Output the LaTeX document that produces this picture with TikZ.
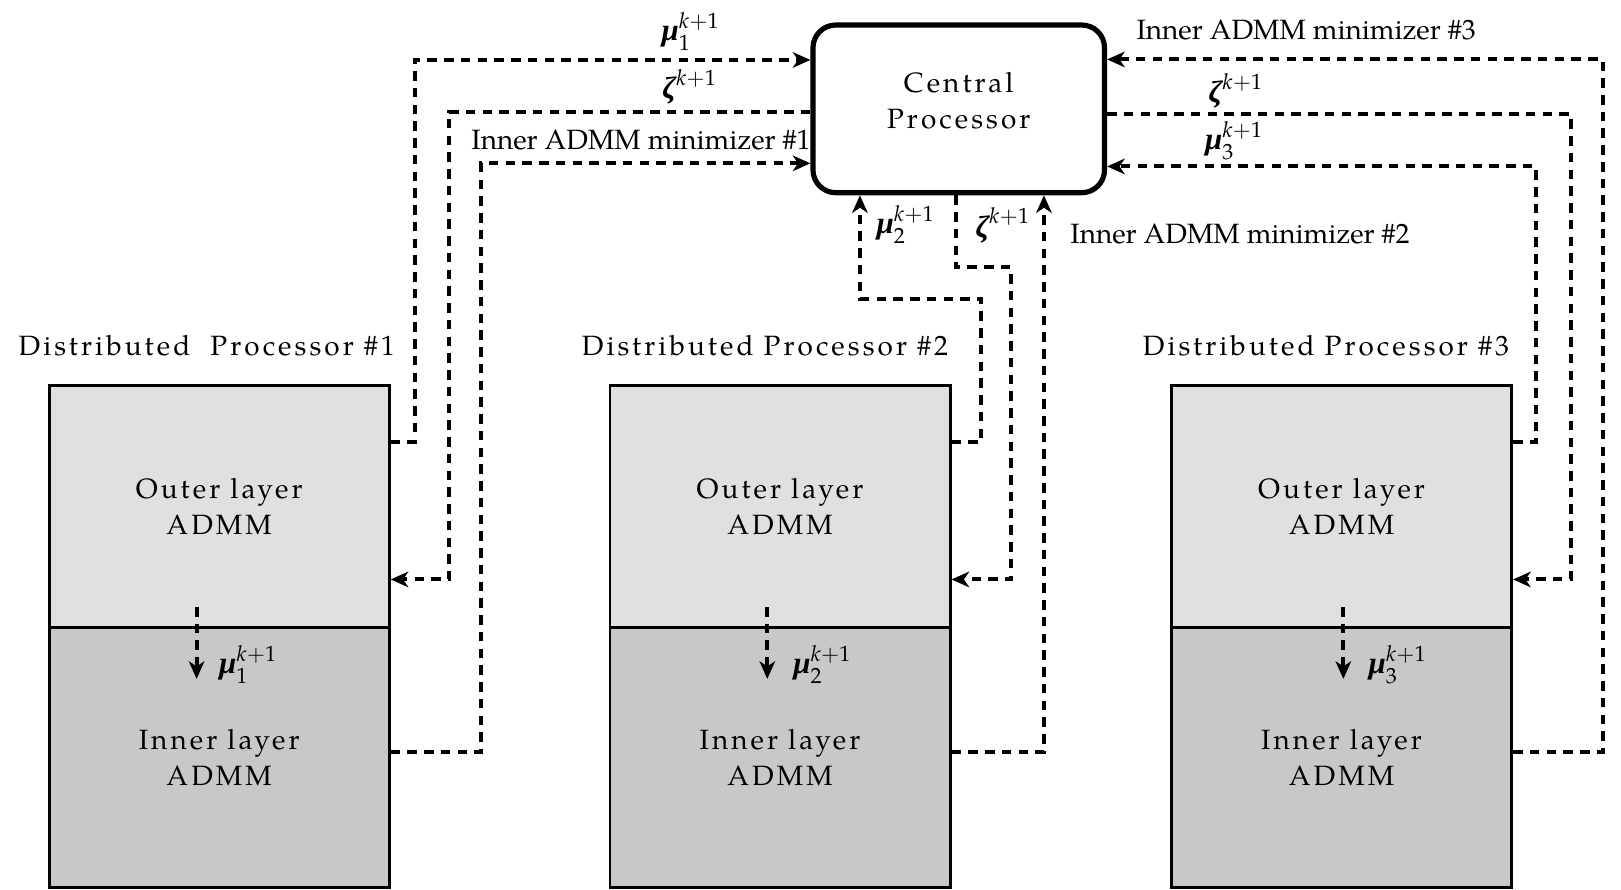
\documentclass[tikz,border=0pt]{standalone}
\usepackage{amsmath}
\usepackage{mathpazo}
\usepackage{fontspec}
\setmainfont{texgyrepagella}[Extension=.otf, UprightFont=*-regular, BoldFont=*-bold, ItalicFont=*-italic, BoldItalicFont=*-bolditalic]
\newfontfamily\spacedfont{texgyrepagella}[Extension=.otf, UprightFont=*-regular, LetterSpace=11]
\newfontfamily\grkfont{Liberation Serif}
\newcommand{\bmu}{\mbox{\fontsize{15pt}{16pt}\grkfont\bfseries\itshape μ}}
\newcommand{\bzeta}{\mbox{\fontsize{15pt}{16pt}\grkfont\bfseries\itshape ζ}}
\usetikzlibrary{arrows.meta,calc}
\definecolor{outerfill}{gray}{0.88}
\definecolor{innerfill}{gray}{0.785}
\begin{document}
\begin{tikzpicture}[x=0.5pt,y=-0.5pt,
  every node/.style={font=\fontsize{13.5pt}{16.8pt}\selectfont, inner sep=0pt},
  sp/.style={font=\fontsize{13.5pt}{17.4pt}\selectfont\spacedfont},
  cpsp/.style={font=\fontsize{13.5pt}{17.4pt}\selectfont\spacedfont},
  mlab/.style={font=\fontsize{14pt}{16.8pt}\selectfont},
  layerbox/.style={draw, line width=1.4pt, minimum width=164.5pt, align=center, sp},
  outerbox/.style={layerbox, fill=outerfill, minimum height=117.25pt},
  innerbox/.style={layerbox, fill=innerfill, minimum height=125.9pt},
  cpbox/.style={draw, line width=2.5pt, rounded corners=11pt, minimum width=141pt, minimum height=81.1pt},
  dl/.style={line width=1.9pt, dash pattern=on 4.6pt off 3.5pt},
  tip/.style={-{Stealth[length=8.5pt,width=7.5pt,inset=2.5pt]}}]
\useasboundingbox (0,0) rectangle (1568,860);

% central processor
\node[cpbox] (cp) at (927.4,105.3) {};
\node[cpsp, align=center] (cpt) at (927.4,97) {Central\\Processor};

% processors
\foreach \i/\cx in {1/212, 2/754.5, 3/1297.7}{
  \node[outerbox] (o\i) at (\cx,490) {Outer layer\\ADMM};
  \node[innerbox] (i\i) at (\cx,733) {Inner layer\\ADMM};
}
\node[sp, anchor=base] (t1) at (200,344) {Distributed~ Processor \#1};
\node[sp, anchor=base] (t2) at (740,344) {Distributed Processor \#2};
\node[sp, anchor=base] (t3) at (1282.6,344) {Distributed Processor \#3};

% inner arrows
\draw[dl,tip] ($(o1.south)+(-21.8,-21.5)$) -- ($(i1.north)+(-21.8,51)$);
\draw[dl,tip] ($(o2.south)+(-12.3,-21.5)$) -- ($(i2.north)+(-12.3,51)$);
\draw[dl,tip] ($(o3.south)+(1.7,-21.5)$) -- ($(i3.north)+(1.7,51)$);
\node[mlab] (m1) at (240,643) {$\bmu_1^{k+1}$};
\node[mlab] (m2) at (795.5,643) {$\bmu_2^{k+1}$};
\node[mlab] (m3) at (1352,643) {$\bmu_3^{k+1}$};

% left connectors
\draw[dl,tip] (o1.east |- 0,427.5) -| (401,58) -- (cp.west |- 0,58);
\draw[dl,tip] (cp.west |- 0,108) -| (434.6,560.5) -- (o1.east |- 0,560.5);
\draw[dl,tip] (i1.east |- 0,727.2) -| (465.5,158) -- (cp.west |- 0,158);
\node[mlab] (lm1) at (668,30.5) {$\bmu_1^{k+1}$};
\node[mlab] (lz1) at (667,84) {$\bzeta^{k+1}$};
\node[anchor=base west] (la1) at (455.6,144.2) {Inner ADMM minimizer \#1};

% middle connectors
\draw[dl,tip] (o2.east |- 0,427.5) -| (949,288.8) -| (cp.south -| 831.8,0);
\draw[dl,tip] (cp.south -| 924.5,0) |- (977.8,258.6) |- (o2.east |- 0,560.5);
\draw[dl,tip] (i2.east |- 0,727.2) -| (cp.south -| 1009.8,0);
\node[mlab] (lm2) at (876,217) {$\bmu_2^{k+1}$};
\node[mlab] (lz2) at (970,218) {$\bzeta^{k+1}$};
\node[anchor=base west] (la2) at (1035,235.4) {Inner ADMM minimizer \#2};

% right connectors
\draw[dl,tip] (o3.east |- 0,427.5) -| (1485.5,161) -- (cp.east |- 0,161);
\draw[dl,tip] (cp.east |- 0,110.6) -| (1519.7,560.5) -- (o3.east |- 0,560.5);
\draw[dl,tip] (i3.east |- 0,727.2) -| (1550.3,57.5) -- (cp.east |- 0,57.5);
\node[mlab] (lm3) at (1193.7,136) {$\bmu_3^{k+1}$};
\node[mlab] (lz3) at (1195.5,88) {$\bzeta^{k+1}$};
\node[anchor=base west] (la3) at (1099,38) {Inner ADMM minimizer \#3};
\end{tikzpicture}
\end{document}
